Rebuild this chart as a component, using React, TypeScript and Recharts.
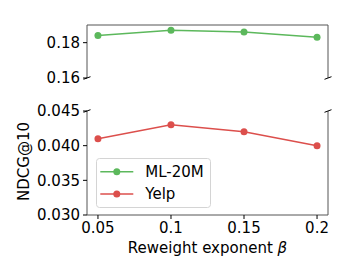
import React from "react";
import { LineChart, Line, XAxis, YAxis, Legend } from "recharts";

// values
const betas = [0.05, 0.1, 0.15, 0.2];
const ml20m = [0.184, 0.187, 0.186, 0.183];
const yelp = [0.041, 0.043, 0.042, 0.04];
const xTicks = [0.05, 0.1, 0.15, 0.2];
const topTicks = [0.16, 0.18];
const bottomTicks = [0.03, 0.035, 0.04, 0.045];
const seriesNames = ["ML-20M", "Yelp"];
const seriesColors = ["#5cb85c", "#dc4f4c"];

const data = betas.map((b, i) => ({ beta: b, ml: ml20m[i], yelp: yelp[i] }));

const FONT = "DejaVu Sans";
const SPINE = "#555";
const xDomain = [0.0425, 0.2075];

// plot area edges shared by both panels
const LEFT = 87;
const RIGHT = 328;
const TOP_TOP = 25;
const TOP_BOTTOM = 78;
const BOTTOM_TOP = 111;
const BOTTOM_BOTTOM = 215;

const tickStyle = { fontSize: 15, fill: "#000", fontFamily: FONT };

const XLabel = (props: any) => {
  const { viewBox } = props;
  return (
    <text
      x={viewBox.x + viewBox.width / 2}
      y={viewBox.y + 33}
      textAnchor="middle"
      dominantBaseline="central"
      fontSize={15}
      fontFamily={FONT}
      fill="#000"
    >
      Reweight exponent <tspan fontStyle="italic">β</tspan>
    </text>
  );
};

const YLabel = (props: any) => {
  const { viewBox } = props;
  const x = viewBox.x + 17;
  const y = viewBox.y + viewBox.height / 2 - 1.5;
  return (
    <text
      x={x}
      y={y}
      textAnchor="middle"
      dominantBaseline="central"
      fontSize={15}
      fontFamily={FONT}
      fill="#000"
      transform={`rotate(-90, ${x}, ${y})`}
    >
      NDCG@10
    </text>
  );
};

const LegendBox = () => (
  <svg width={115} height={50} style={{ display: "block" }}>
    <rect x={0.5} y={0.5} width={114} height={49} rx={3} fill="rgba(255,255,255,0.8)" stroke="#d4d4d4" />
    {seriesNames.map((name, i) => {
      const cy = 13.7 + i * 22.3;
      return (
        <g key={name}>
          <line x1={4.3} x2={37.3} y1={cy} y2={cy} stroke={seriesColors[i]} strokeWidth={1.5} />
          <circle cx={20.8} cy={cy} r={3.5} fill={seriesColors[i]} />
          <text x={49.3} y={cy} dominantBaseline="central" fontSize={15} fontFamily={FONT} fill="#000">
            {name}
          </text>
        </g>
      );
    })}
  </svg>
);

const breaks = [
  [LEFT, TOP_BOTTOM],
  [RIGHT, TOP_BOTTOM],
  [LEFT, BOTTOM_TOP],
  [RIGHT, BOTTOM_TOP],
];

export default function App() {
  return (
    <div style={{ position: "absolute", left: 0, top: 0, width: 349, height: 279, background: "#fff" }}>
      {/* top panel: ML-20M */}
      <div style={{ position: "absolute", left: 0, top: 0 }}>
        <LineChart
          width={349}
          height={90}
          data={data}
          margin={{ top: TOP_TOP, right: 349 - RIGHT, bottom: 90 - TOP_BOTTOM, left: 7 }}
          style={{ fontFamily: FONT }}
        >
          <XAxis dataKey="beta" type="number" domain={xDomain} allowDataOverflow hide />
          <YAxis
            type="number"
            domain={[0.16, 0.19]}
            ticks={topTicks}
            tickFormatter={(v) => v.toFixed(2)}
            allowDataOverflow
            width={80}
            tick={tickStyle}
            tickSize={4}
            tickMargin={3}
            tickLine={{ stroke: "#000" }}
            axisLine={{ stroke: SPINE }}
          />
          <Line
            dataKey="ml"
            stroke={seriesColors[0]}
            strokeWidth={1.5}
            dot={{ r: 3.5, fill: seriesColors[0], stroke: "none" }}
            isAnimationActive={false}
          />
        </LineChart>
      </div>

      {/* bottom panel: Yelp */}
      <div style={{ position: "absolute", left: 0, top: 90 }}>
        <LineChart
          width={349}
          height={189}
          data={data}
          margin={{ top: BOTTOM_TOP - 90, right: 349 - RIGHT, bottom: 24, left: 7 }}
          style={{ fontFamily: FONT }}
        >
          <XAxis
            dataKey="beta"
            type="number"
            domain={xDomain}
            ticks={xTicks}
            allowDataOverflow
            height={40}
            tick={tickStyle}
            tickSize={4}
            tickMargin={3}
            tickLine={{ stroke: "#000" }}
            axisLine={{ stroke: SPINE }}
            label={<XLabel />}
          />
          <YAxis
            type="number"
            domain={[0.03, 0.045]}
            ticks={bottomTicks}
            tickFormatter={(v) => v.toFixed(3)}
            allowDataOverflow
            width={80}
            tick={tickStyle}
            tickSize={4}
            tickMargin={3}
            tickLine={{ stroke: "#000" }}
            axisLine={{ stroke: SPINE }}
            label={<YLabel />}
          />
          <Line
            dataKey="yelp"
            stroke={seriesColors[1]}
            strokeWidth={1.5}
            dot={{ r: 3.5, fill: seriesColors[1], stroke: "none" }}
            isAnimationActive={false}
          />
          <Legend
            layout="vertical"
            verticalAlign="middle"
            align="center"
            content={<LegendBox />}
            wrapperStyle={{ left: 96, top: 68, width: 115, height: 50 }}
          />
        </LineChart>
      </div>

      {/* top and right spines, diagonal break marks */}
      <svg width={349} height={279} style={{ position: "absolute", left: 0, top: 0, pointerEvents: "none" }}>
        <line x1={LEFT} x2={RIGHT} y1={TOP_TOP} y2={TOP_TOP} stroke={SPINE} />
        <line x1={RIGHT} x2={RIGHT} y1={TOP_TOP} y2={TOP_BOTTOM} stroke={SPINE} />
        <line x1={RIGHT} x2={RIGHT} y1={BOTTOM_TOP} y2={BOTTOM_BOTTOM} stroke={SPINE} />
        {breaks.map(([x, y], i) => (
          <line key={i} x1={x - 3.5} y1={y + 1.3} x2={x + 3.5} y2={y - 1.3} stroke="#000" strokeWidth={1} />
        ))}
      </svg>
    </div>
  );
}
